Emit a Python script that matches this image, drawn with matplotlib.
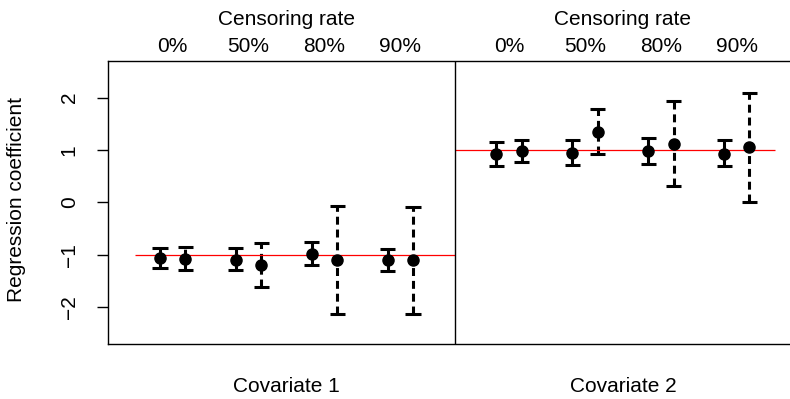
import numpy as np
import matplotlib
matplotlib.use("Agg")
import matplotlib.pyplot as plt

plt.rcParams["font.family"] = ["Liberation Sans", "DejaVu Sans"]
plt.rcParams["font.size"] = 15

rates = ["0%", "50%", "80%", "90%"]
covariates = ["Covariate 1", "Covariate 2"]
true_values = [-1, 1]

# estimate, lower, upper for each censoring rate
cov1_solid_est = [-1.06, -1.09, -0.98, -1.10]
cov1_solid_lo = [-1.25, -1.29, -1.20, -1.31]
cov1_solid_hi = [-0.87, -0.87, -0.76, -0.89]
cov1_dash_est = [-1.08, -1.19, -1.09, -1.10]
cov1_dash_lo = [-1.29, -1.62, -2.13, -2.12]
cov1_dash_hi = [-0.84, -0.78, -0.06, -0.09]

cov2_solid_est = [0.92, 0.95, 0.99, 0.93]
cov2_solid_lo = [0.69, 0.71, 0.73, 0.69]
cov2_solid_hi = [1.15, 1.19, 1.23, 1.20]
cov2_dash_est = [0.99, 1.35, 1.12, 1.06]
cov2_dash_lo = [0.77, 0.93, 0.31, 0.01]
cov2_dash_hi = [1.20, 1.78, 1.94, 2.09]

solid = [(cov1_solid_est, cov1_solid_lo, cov1_solid_hi),
         (cov2_solid_est, cov2_solid_lo, cov2_solid_hi)]
dashed = [(cov1_dash_est, cov1_dash_lo, cov1_dash_hi),
          (cov2_dash_est, cov2_dash_lo, cov2_dash_hi)]

fig = plt.figure(figsize=(7.9, 3.99), dpi=100)
ax = fig.add_axes([108 / 790, 1 - 344 / 399, 692 / 790, 283 / 399])

centers = np.arange(4) * 3 + 1.5
shift = 13.3
divider = (centers[-1] + 0.5 + centers[0] - 0.5 + shift) / 2
cap = 0.3
lw = 2.2

def bars(x, est, lo, hi, style):
    ax.vlines(x, lo, hi, colors="black", linewidth=lw, linestyles=style)
    ax.hlines(lo, x - cap, x + cap, colors="black", linewidth=lw)
    ax.hlines(hi, x - cap, x + cap, colors="black", linewidth=lw)
    ax.plot(x, est, "o", color="black", markersize=8, zorder=5)

for k in range(2):
    off = k * shift
    x = centers + off
    bars(x - 0.5, *[np.array(v) for v in solid[k]], "solid")
    bars(x + 0.5, *[np.array(v) for v in dashed[k]], (0, (2.6, 1.6)))
    if k == 0:
        ax.hlines(true_values[k], 0, divider, colors="red", linewidth=0.9)
    else:
        ax.hlines(true_values[k], divider, centers[-1] + off + 1.5, colors="red", linewidth=0.9)
    mid = (x[0] + x[-1]) / 2
    ax.text(mid, 1.145, "Censoring rate", transform=ax.get_xaxis_transform(),
            ha="center", va="center")
    for c, r in zip(x, rates):
        ax.text(c, 1.053, r, transform=ax.get_xaxis_transform(), ha="center", va="center")
    ax.text(mid, -0.15, covariates[k], transform=ax.get_xaxis_transform(),
            ha="center", va="center")

ax.axvline(divider, color="black", linewidth=1)

ax.set_xlim(1 + (108 - 160) / 25.3, 1 + (800 - 160) / 25.3)
ax.set_ylim(-2.7, 2.7)
ax.set_xticks([])
ax.set_yticks([-2, -1, 0, 1, 2])
ax.tick_params(axis="y", length=8, width=1, pad=13)
for lab in ax.get_yticklabels():
    lab.set_rotation(90)
    lab.set_va("center")
for s in ax.spines.values():
    s.set_linewidth(1)

fig.text(17 / 790, 1 - 200 / 399, "Regression coefficient", rotation=90,
         ha="center", va="center")

fig.savefig("out.png", dpi=100)
